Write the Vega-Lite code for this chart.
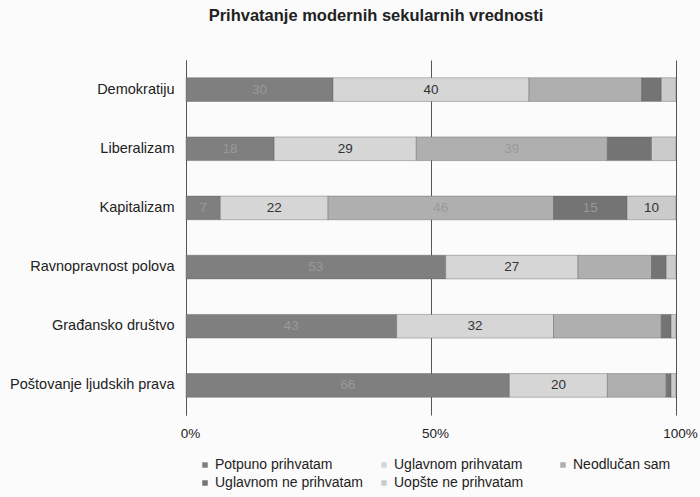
{
  "$schema": "https://vega.github.io/schema/vega-lite/v6.json",
  "width": 490,
  "height": 355,
  "autosize": {"type": "none"},
  "padding": {"left": 186, "top": 60, "right": 24, "bottom": 82},
  "background": "#fbfbfb",
  "config": {
    "font": "Liberation Sans",
    "view": {"stroke": null}
  },
  "title": {
    "text": "Prihvatanje modernih sekularnih vrednosti",
    "fontSize": 16.5,
    "fontWeight": "bold",
    "color": "#222",
    "anchor": "middle",
    "frame": "group",
    "dx": -55,
    "offset": 36
  },
  "data": {
    "values": [
      {"cat": "Demokratiju", "resp": "Potpuno prihvatam", "ord": 1, "value": 30, "label": "30"},
      {"cat": "Demokratiju", "resp": "Uglavnom prihvatam", "ord": 2, "value": 40, "label": "40"},
      {"cat": "Demokratiju", "resp": "Neodlučan sam", "ord": 3, "value": 23, "label": ""},
      {"cat": "Demokratiju", "resp": "Uglavnom ne prihvatam", "ord": 4, "value": 4, "label": ""},
      {"cat": "Demokratiju", "resp": "Uopšte ne prihvatam", "ord": 5, "value": 3, "label": ""},
      {"cat": "Liberalizam", "resp": "Potpuno prihvatam", "ord": 1, "value": 18, "label": "18"},
      {"cat": "Liberalizam", "resp": "Uglavnom prihvatam", "ord": 2, "value": 29, "label": "29"},
      {"cat": "Liberalizam", "resp": "Neodlučan sam", "ord": 3, "value": 39, "label": "39"},
      {"cat": "Liberalizam", "resp": "Uglavnom ne prihvatam", "ord": 4, "value": 9, "label": ""},
      {"cat": "Liberalizam", "resp": "Uopšte ne prihvatam", "ord": 5, "value": 5, "label": ""},
      {"cat": "Kapitalizam", "resp": "Potpuno prihvatam", "ord": 1, "value": 7, "label": "7"},
      {"cat": "Kapitalizam", "resp": "Uglavnom prihvatam", "ord": 2, "value": 22, "label": "22"},
      {"cat": "Kapitalizam", "resp": "Neodlučan sam", "ord": 3, "value": 46, "label": "46"},
      {"cat": "Kapitalizam", "resp": "Uglavnom ne prihvatam", "ord": 4, "value": 15, "label": "15"},
      {"cat": "Kapitalizam", "resp": "Uopšte ne prihvatam", "ord": 5, "value": 10, "label": "10"},
      {"cat": "Ravnopravnost polova", "resp": "Potpuno prihvatam", "ord": 1, "value": 53, "label": "53"},
      {"cat": "Ravnopravnost polova", "resp": "Uglavnom prihvatam", "ord": 2, "value": 27, "label": "27"},
      {"cat": "Ravnopravnost polova", "resp": "Neodlučan sam", "ord": 3, "value": 15, "label": ""},
      {"cat": "Ravnopravnost polova", "resp": "Uglavnom ne prihvatam", "ord": 4, "value": 3, "label": ""},
      {"cat": "Ravnopravnost polova", "resp": "Uopšte ne prihvatam", "ord": 5, "value": 2, "label": ""},
      {"cat": "Građansko društvo", "resp": "Potpuno prihvatam", "ord": 1, "value": 43, "label": "43"},
      {"cat": "Građansko društvo", "resp": "Uglavnom prihvatam", "ord": 2, "value": 32, "label": "32"},
      {"cat": "Građansko društvo", "resp": "Neodlučan sam", "ord": 3, "value": 22, "label": ""},
      {"cat": "Građansko društvo", "resp": "Uglavnom ne prihvatam", "ord": 4, "value": 2, "label": ""},
      {"cat": "Građansko društvo", "resp": "Uopšte ne prihvatam", "ord": 5, "value": 1, "label": ""},
      {"cat": "Poštovanje ljudskih prava", "resp": "Potpuno prihvatam", "ord": 1, "value": 66, "label": "66"},
      {"cat": "Poštovanje ljudskih prava", "resp": "Uglavnom prihvatam", "ord": 2, "value": 20, "label": "20"},
      {"cat": "Poštovanje ljudskih prava", "resp": "Neodlučan sam", "ord": 3, "value": 12, "label": ""},
      {"cat": "Poštovanje ljudskih prava", "resp": "Uglavnom ne prihvatam", "ord": 4, "value": 1, "label": ""},
      {"cat": "Poštovanje ljudskih prava", "resp": "Uopšte ne prihvatam", "ord": 5, "value": 1, "label": ""}
    ]
  },
  "transform": [
    {"stack": "value", "groupby": ["cat"], "sort": [{"field": "ord"}], "offset": "normalize", "as": ["v0", "v1"]},
    {"calculate": "(datum.v0 + datum.v1) / 2", "as": "mid"}
  ],
  "encoding": {
    "y": {
      "field": "cat",
      "type": "nominal",
      "sort": null,
      "scale": {"paddingInner": 0.6, "paddingOuter": 0.3},
      "axis": {
        "title": null,
        "ticks": false,
        "domain": true,
        "domainColor": "#555",
        "labelFontSize": 14.5,
        "labelColor": "#222",
        "labelPadding": 12,
        "labelLimit": 200
      }
    }
  },
  "layer": [
    {
      "mark": {"type": "bar", "stroke": "#5a5a5a", "strokeWidth": 0.4},
      "encoding": {
        "x": {
          "field": "v0",
          "type": "quantitative",
          "scale": {"domain": [0, 1], "nice": false},
          "axis": {
            "title": null,
            "values": [0, 0.5, 1],
            "format": "%",
            "grid": true,
            "gridColor": "#555",
            "gridWidth": 1,
            "domain": false,
            "ticks": false,
            "labelFontSize": 13.5,
            "labelColor": "#222",
            "labelPadding": 11,
            "labelOffset": 4,
            "labelFlush": false
          }
        },
        "x2": {"field": "v1"},
        "color": {
          "field": "resp",
          "type": "nominal",
          "sort": ["Potpuno prihvatam", "Uglavnom prihvatam", "Neodlučan sam", "Uglavnom ne prihvatam", "Uopšte ne prihvatam"],
          "scale": {
            "domain": ["Potpuno prihvatam", "Uglavnom prihvatam", "Neodlučan sam", "Uglavnom ne prihvatam", "Uopšte ne prihvatam"],
            "range": ["#7f7f7f", "#d6d6d6", "#afafaf", "#747474", "#cbcbcb"]
          },
          "legend": {
            "title": null,
            "orient": "none",
            "legendX": 12,
            "legendY": 398,
            "direction": "horizontal",
            "columns": 3,
            "gridAlign": "all",
            "columnPadding": 14,
            "rowPadding": 4,
            "symbolType": "square",
            "symbolSize": 30,
            "symbolStrokeWidth": 0,
            "labelFontSize": 14,
            "labelColor": "#222",
            "labelOffset": 3
          }
        },
        "order": {"field": "ord"}
      }
    },
    {
      "mark": {"type": "text", "fontSize": 13.5, "align": "center", "baseline": "middle"},
      "encoding": {
        "x": {"field": "mid", "type": "quantitative"},
        "text": {"field": "label"},
        "color": {
          "condition": {"test": "datum.resp === 'Uglavnom prihvatam' || datum.resp === 'Uopšte ne prihvatam'", "value": "#333333"},
          "value": "#999999"
        }
      }
    }
  ]
}
